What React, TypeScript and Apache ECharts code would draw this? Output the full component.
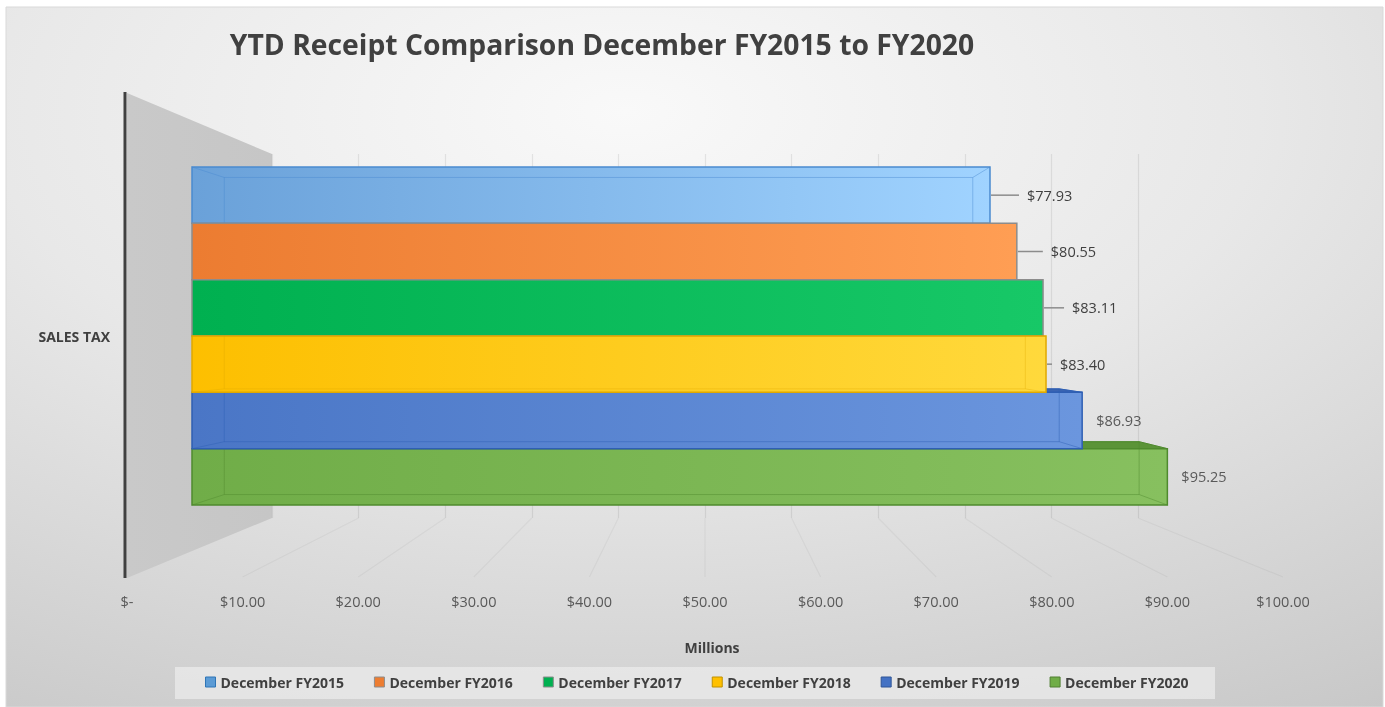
import React, { useEffect, useRef } from 'react';
import * as echarts from 'echarts';

// ---- data ----
const categories = ['SALES TAX'];
const seriesNames = [
  'December FY2015',
  'December FY2016',
  'December FY2017',
  'December FY2018',
  'December FY2019',
  'December FY2020',
];
const seriesValues = [77.93, 80.55, 83.11, 83.4, 86.93, 95.25];
const xTicks = [0, 10, 20, 30, 40, 50, 60, 70, 80, 90, 100];

// ---- styles (per series) ----
const barStyles = [
  { left: '#6aa1d9', right: '#a0d3ff', border: '#4a8ad0', face: '#5a8fcc', legend: '#5b9bd5', legendBorder: '#2e75b6', dx: 37, leader: true, z: 2, labelColor: '#404040', edgeOpacity: 0.45 },
  { left: '#ec7c31', right: '#ff9e54', border: '#8c8c8c', face: '#d86c25', legend: '#ed7d31', legendBorder: '#8c8c8c', dx: 34, leader: true, z: 3, labelColor: '#404040', edgeOpacity: 0 },
  { left: '#00b050', right: '#17c867', border: '#8c8c8c', face: '#009a44', legend: '#00b050', legendBorder: '#8c8c8c', dx: 29, leader: true, z: 4, labelColor: '#404040', edgeOpacity: 0 },
  { left: '#fdbf00', right: '#ffd93c', border: '#e0a800', face: '#e0a800', legend: '#ffc000', legendBorder: '#bf9000', dx: 14, leader: true, z: 4, labelColor: '#404040', edgeOpacity: 0.35 },
  { left: '#4a76c6', right: '#6b96de', border: '#2f5fb3', face: '#3a64b2', legend: '#4472c4', legendBorder: '#2f5597', dx: 14, leader: false, z: 3, labelColor: '#595959', edgeOpacity: 0.45 },
  { left: '#70ad48', right: '#87c05f', border: '#4f8a2e', face: '#5b9438', legend: '#70ad47', legendBorder: '#507e32', dx: 14, leader: false, z: 2, labelColor: '#595959', edgeOpacity: 0.45 },
];

const FONT = '"Open Sans", "Noto Sans", sans-serif';
const DEPTH = 0.938;

const BAR_GRID = { left: 192, top: 167, width: 1024, height: 338 };
const WALL_GRID = { left: 272, top: 154, width: 866, height: 364 };
const FRONT_GRID = { left: 127, top: 577, width: 1156, height: 1 };

function makeRender(slot: number) {
  const st = barStyles[slot];
  return (params: any, api: any) => {
    const v = api.value(0) as number;
    const p0 = api.coord([0, 0]);
    const p1 = api.coord([v, 0]);
    const band = api.size([0, 1])[1];
    const cs = params.coordSys;
    const h = band / seriesValues.length;
    const top = p0[1] - band / 2 + slot * h;
    const bot = top + h;
    const x0 = p0[0];
    const x1 = p1[0];
    const vx = cs.x + cs.width * 0.508;
    const vy = cs.y + cs.height / 2;
    const bx = (x: number) => vx + (x - vx) * DEPTH;
    const by = (y: number) => vy + (y - vy) * DEPTH;
    const children: any[] = [];
    if (top > vy) {
      children.push({
        type: 'polygon',
        shape: { points: [[x0, top], [x1, top], [bx(x1), by(top)], [bx(x0), by(top)]] },
        style: { fill: st.face, stroke: st.border, lineWidth: 1 },
      });
    } else if (bot < vy) {
      children.push({
        type: 'polygon',
        shape: { points: [[x0, bot], [x1, bot], [bx(x1), by(bot)], [bx(x0), by(bot)]] },
        style: { fill: st.face, stroke: st.border, lineWidth: 1 },
      });
    }
    children.push({
      type: 'rect',
      shape: { x: x0, y: top, width: x1 - x0, height: h },
      style: {
        fill: {
          type: 'linear', x: 0, y: 0, x2: 1, y2: 0,
          colorStops: [
            { offset: 0, color: st.left },
            { offset: 1, color: st.right },
          ],
        },
        stroke: st.border,
        lineWidth: 1.5,
      },
    });
    if (st.edgeOpacity > 0) {
      const edge = { stroke: st.border, lineWidth: 1, opacity: st.edgeOpacity, fill: 'none' };
      children.push({
        type: 'polyline',
        shape: { points: [[bx(x0), by(top)], [bx(x1), by(top)], [bx(x1), by(bot)], [bx(x0), by(bot)], [bx(x0), by(top)]] },
        style: edge,
      });
      [[x0, top], [x1, top], [x1, bot], [x0, bot]].forEach(([px, py]) => {
        children.push({
          type: 'line',
          shape: { x1: px, y1: py, x2: bx(px), y2: by(py) },
          style: edge,
        });
      });
    }
    const cy = (top + bot) / 2;
    if (st.leader) {
      children.push({
        type: 'line',
        shape: { x1: x1 + 1, y1: cy, x2: x1 + st.dx - 8, y2: cy },
        style: { stroke: '#8c8c8c', lineWidth: 1.5 },
      });
    }
    children.push({
      type: 'text',
      style: {
        text: '$' + v.toFixed(2),
        x: x1 + st.dx,
        y: cy,
        align: 'left',
        verticalAlign: 'middle',
        textAlign: 'left',
        textVerticalAlign: 'middle',
        fill: st.labelColor,
        font: '14.5px ' + FONT,
      },
    });
    return { type: 'group', children };
  };
}

export default function App() {
  const ref = useRef<HTMLDivElement>(null);
  useEffect(() => {
    const chart = echarts.init(ref.current!, null, { renderer: 'svg' });

    const floorLines = xTicks.slice(1).map((t) => ({
      type: 'line',
      z: -40,
      silent: true,
      shape: {
        x1: WALL_GRID.left + (t / 100) * WALL_GRID.width,
        y1: WALL_GRID.top + WALL_GRID.height,
        x2: FRONT_GRID.left + (t / 100) * FRONT_GRID.width,
        y2: FRONT_GRID.top,
      },
      style: { stroke: 'rgba(0,0,0,0.045)', lineWidth: 1.2 },
    }));

    const option: any = {
      animation: false,
      graphic: [
        {
          type: 'rect', z: -100, silent: true,
          shape: { x: 6, y: 7, width: 1377, height: 700 },
          style: {
            fill: {
              type: 'radial', x: 0.45, y: 0.15, r: 1.15,
              colorStops: [
                { offset: 0, color: '#f9f9f9' },
                { offset: 0.4, color: '#e8e8e8' },
                { offset: 1, color: '#c0c0c0' },
              ],
            },
            stroke: '#d9d9d9', lineWidth: 1,
          },
        },
        {
          type: 'polygon', z: -50, silent: true,
          shape: { points: [[127, 93], [272, 154], [272, 518], [127, 578]] },
          style: {
            fill: {
              type: 'linear', x: 0, y: 0, x2: 1, y2: 0,
              colorStops: [
                { offset: 0, color: '#c9c9c9' },
                { offset: 1, color: '#c6c6c6' },
              ],
            },
          },
        },
        ...floorLines,
        {
          type: 'line', z: 20, silent: true,
          shape: { x1: 125, y1: 92, x2: 125, y2: 578 },
          style: { stroke: '#404040', lineWidth: 3 },
        },
        {
          type: 'rect', z: -30, silent: true,
          shape: { x: 175, y: 667, width: 1040, height: 32 },
          style: { fill: 'rgba(235,235,235,0.75)' },
        },
        {
          type: 'text', z: 20,
          style: {
            text: 'YTD Receipt Comparison December FY2015 to FY2020',
            x: 602, y: 44,
            align: 'center', verticalAlign: 'middle',
            textAlign: 'center', textVerticalAlign: 'middle',
            fill: '#404040',
            font: 'bold 28.3px ' + FONT,
          },
        },
        {
          type: 'text', z: 20,
          style: {
            text: 'Millions',
            x: 712, y: 647,
            align: 'center', verticalAlign: 'middle',
            textAlign: 'center', textVerticalAlign: 'middle',
            fill: '#404040',
            font: 'bold 14px ' + FONT,
          },
        },
      ],
      legend: {
        data: seriesNames.map((name, i) => ({
          name,
          icon: 'rect',
          itemStyle: { color: barStyles[i].legend, borderColor: barStyles[i].legendBorder, borderWidth: 1 },
        })),
        left: 205,
        top: 675,
        padding: 0,
        itemWidth: 10,
        itemHeight: 10,
        itemGap: 30,
        itemTextGap: 4,
        selectedMode: false,
        textStyle: { width: 125, fontFamily: FONT, fontWeight: 'bold', fontSize: 14, color: '#404040' },
      },
      grid: [
        { ...BAR_GRID },
        { ...FRONT_GRID },
        { ...WALL_GRID },
      ],
      xAxis: [
        { type: 'value', gridIndex: 0, min: 0, max: 100, show: false },
        {
          type: 'value', gridIndex: 1, min: 0, max: 100, interval: 10,
          axisLine: { show: false }, axisTick: { show: false }, splitLine: { show: false },
          axisLabel: {
            margin: 16,
            color: '#595959', fontSize: 14.5, fontFamily: FONT,
            formatter: (v: number) => (v === 0 ? '$-' : '$' + v.toFixed(2)),
          },
        },
        {
          type: 'value', gridIndex: 2, min: 0, max: 100, interval: 10,
          axisLine: { show: false }, axisTick: { show: false }, axisLabel: { show: false },
          splitLine: { show: true, lineStyle: { color: 'rgba(0,0,0,0.08)', width: 1.2 } },
        },
      ],
      yAxis: [
        {
          type: 'category', gridIndex: 0, data: categories,
          axisLine: { show: false }, axisTick: { show: false }, splitLine: { show: false },
          axisLabel: { margin: 82, fontWeight: 'bold', fontSize: 14, color: '#404040', fontFamily: FONT },
        },
        { type: 'value', gridIndex: 1, show: false },
        { type: 'value', gridIndex: 2, show: false },
      ],
      series: seriesNames.map((name, i) => ({
        type: 'custom',
        name,
        xAxisIndex: 0,
        yAxisIndex: 0,
        z: barStyles[i].z,
        itemStyle: { color: barStyles[i].legend },
        renderItem: makeRender(i),
        data: [[seriesValues[i], 0]],
      })),
    };

    chart.setOption(option);
    return () => chart.dispose();
  }, []);
  return <div ref={ref} style={{ position: 'fixed', left: 0, top: 0, width: 1385, height: 707 }} />;
}
